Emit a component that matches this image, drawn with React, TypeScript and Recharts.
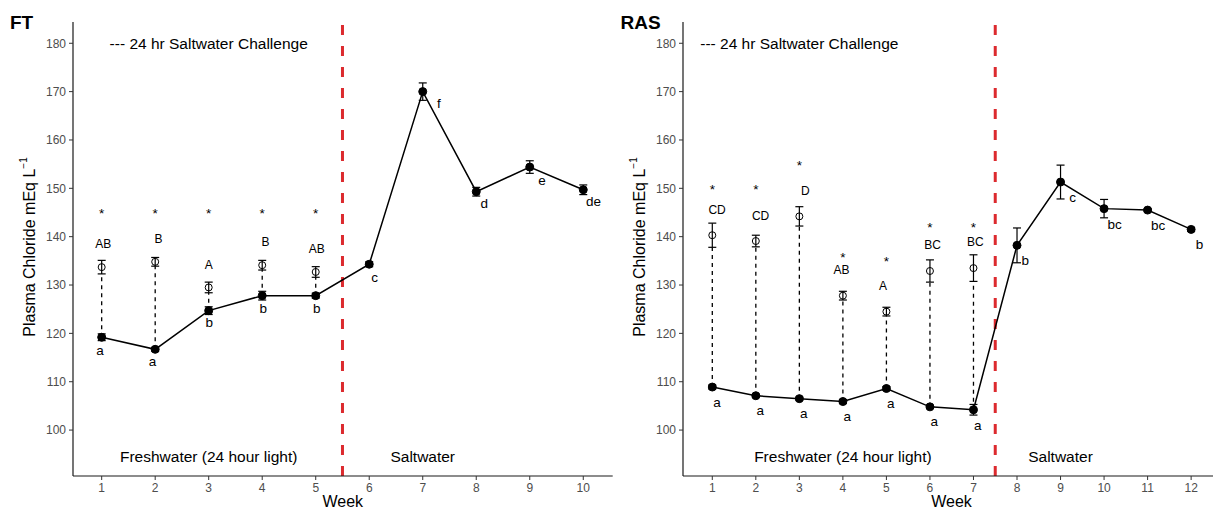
import { ComposedChart, Line, Scatter, XAxis, YAxis, ErrorBar, ReferenceLine } from "recharts";

const FONT = "'Liberation Sans', Arial, Helvetica, sans-serif";

// ---- FT panel ----
const ftWeeks = [1, 2, 3, 4, 5, 6, 7, 8, 9, 10];
const ftChallenge = [119.2, 116.7, 124.7, 127.8, 127.8, 134.3, 170.0, 149.3, 154.4, 149.7];
const ftChallengeSe = [0.7, 0.4, 0.8, 0.9, 0.5, 0.5, 1.8, 0.9, 1.3, 1.0];
const ftFreshWeeks = [1, 2, 3, 4, 5];
const ftFresh = [133.7, 134.8, 129.5, 134.1, 132.7];
const ftFreshSe = [1.4, 0.9, 1.1, 1.0, 1.1];
const ftStars = [
  { week: 1, value: 145.5, text: "*" },
  { week: 2, value: 145.5, text: "*" },
  { week: 3, value: 145.5, text: "*" },
  { week: 4, value: 145.5, text: "*" },
  { week: 5, value: 145.5, text: "*" },
];
const ftUpper = [
  { week: 1.03, value: 138.4, text: "AB" },
  { week: 2.06, value: 139.6, text: "B" },
  { week: 3.0, value: 134.2, text: "A" },
  { week: 4.06, value: 138.9, text: "B" },
  { week: 5.02, value: 137.5, text: "AB" },
];
const ftLower = [
  { week: 0.97, value: 116.3, text: "a" },
  { week: 1.95, value: 113.9, text: "a" },
  { week: 3.01, value: 122.0, text: "b" },
  { week: 4.02, value: 124.9, text: "b" },
  { week: 5.02, value: 124.9, text: "b" },
  { week: 6.1, value: 131.4, text: "c" },
  { week: 7.3, value: 167.4, text: "f" },
  { week: 8.15, value: 146.7, text: "d" },
  { week: 9.23, value: 151.5, text: "e" },
  { week: 10.19, value: 147.0, text: "de" },
];
const ftNotes = [
  { week: 3, value: 180, text: "--- 24 hr Saltwater Challenge" },
  { week: 3, value: 94.6, text: "Freshwater (24 hour light)" },
  { week: 7, value: 94.6, text: "Saltwater" },
];

// ---- RAS panel ----
const rasWeeks = [1, 2, 3, 4, 5, 6, 7, 8, 9, 10, 11, 12];
const rasChallenge = [108.9, 107.1, 106.5, 105.9, 108.6, 104.8, 104.2, 138.2, 151.3, 145.8, 145.5, 141.5];
const rasChallengeSe = [0.4, 0.3, 0.3, 0.4, 0.4, 0.3, 1.1, 3.6, 3.5, 1.9, 0.3, 0.4];
const rasFreshWeeks = [1, 2, 3, 4, 5, 6, 7];
const rasFresh = [140.3, 139.1, 144.2, 127.8, 124.5, 132.9, 133.5];
const rasFreshSe = [2.5, 1.2, 2.0, 0.9, 0.9, 2.3, 2.75];
const rasStars = [
  { week: 1, value: 150.5, text: "*" },
  { week: 2, value: 150.5, text: "*" },
  { week: 3, value: 155.4, text: "*" },
  { week: 4, value: 136.4, text: "*" },
  { week: 5, value: 135.5, text: "*" },
  { week: 6, value: 142.6, text: "*" },
  { week: 7, value: 142.6, text: "*" },
];
const rasUpper = [
  { week: 1.11, value: 145.6, text: "CD" },
  { week: 2.11, value: 144.2, text: "CD" },
  { week: 3.14, value: 149.4, text: "D" },
  { week: 3.97, value: 133.1, text: "AB" },
  { week: 4.92, value: 129.8, text: "A" },
  { week: 6.06, value: 138.2, text: "BC" },
  { week: 7.04, value: 138.9, text: "BC" },
];
const rasLower = [
  { week: 1.11, value: 105.4, text: "a" },
  { week: 2.1, value: 103.8, text: "a" },
  { week: 3.1, value: 103.2, text: "a" },
  { week: 4.1, value: 102.5, text: "a" },
  { week: 5.1, value: 105.2, text: "a" },
  { week: 6.1, value: 101.5, text: "a" },
  { week: 7.1, value: 100.8, text: "a" },
  { week: 8.19, value: 134.8, text: "b" },
  { week: 9.28, value: 147.9, text: "c" },
  { week: 10.24, value: 142.4, text: "bc" },
  { week: 11.24, value: 142.1, text: "bc" },
  { week: 12.19, value: 138.2, text: "b" },
];
const rasNotes = [
  { week: 3, value: 180, text: "--- 24 hr Saltwater Challenge" },
  { week: 4, value: 94.6, text: "Freshwater (24 hour light)" },
  { week: 9, value: 94.6, text: "Saltwater" },
];

const yTicks = [100, 110, 120, 130, 140, 150, 160, 170, 180];

const textShape = (size: number, dy: number) => (p: any) => (
  <text
    x={p.cx}
    y={p.cy}
    dy={dy}
    textAnchor="middle"
    dominantBaseline="central"
    fontSize={size}
    fontFamily={FONT}
    fill="#000"
  >
    {p.payload.text}
  </text>
);

const openCircle = (p: any) => <circle cx={p.cx} cy={p.cy} r={3.5} fill="none" stroke="#000" strokeWidth={1} />;

interface PanelProps {
  left: number;
  weeks: number[];
  challenge: number[];
  challengeSe: number[];
  freshWeeks: number[];
  fresh: number[];
  freshSe: number[];
  stars: { week: number; value: number; text: string }[];
  upper: { week: number; value: number; text: string }[];
  lower: { week: number; value: number; text: string }[];
  notes: { week: number; value: number; text: string }[];
  xDomain: [number, number];
  switchWeek: number;
  yAxisWidth: number;
  marginRight: number;
}

function Panel(props: PanelProps) {
  const saltData = props.weeks.map((w, i) => ({ week: w, value: props.challenge[i], se: props.challengeSe[i] }));
  const freshData = props.freshWeeks.map((w, i) => ({ week: w, value: props.fresh[i], se: props.freshSe[i] }));

  return (
    <div style={{ position: "absolute", left: props.left, top: 0 }}>
      <ComposedChart
        width={640}
        height={511}
        margin={{ top: 22, right: props.marginRight, bottom: 0, left: 0 }}
      >
        <XAxis
          type="number"
          dataKey="week"
          domain={props.xDomain}
          ticks={props.weeks}
          allowDataOverflow
          height={35}
          tickSize={4}
          tickMargin={3}
          tick={{ fill: "#4d4d4d", fontSize: 12, fontFamily: FONT }}
          axisLine={{ stroke: "#1a1a1a", strokeWidth: 1.2 }}
          tickLine={{ stroke: "#333" }}
        />
        <YAxis
          type="number"
          domain={[90.5, 184.4]}
          ticks={yTicks}
          allowDataOverflow
          width={props.yAxisWidth}
          tickSize={4}
          tickMargin={3}
          tick={{ fill: "#4d4d4d", fontSize: 12, fontFamily: FONT }}
          axisLine={{ stroke: "#1a1a1a", strokeWidth: 1.2 }}
          tickLine={{ stroke: "#333" }}
        />
        <ReferenceLine x={props.switchWeek} stroke="#dc2a2e" strokeWidth={3} strokeDasharray="10 11" />
        {freshData.map((d, i) => (
          <ReferenceLine
            key={d.week}
            segment={[
              { x: d.week, y: saltData[i].value },
              { x: d.week, y: d.value - d.se },
            ]}
            stroke="#000"
            strokeWidth={1.3}
            strokeDasharray="4 4"
          />
        ))}
        <Line
          data={saltData}
          dataKey="value"
          stroke="#000"
          strokeWidth={1.5}
          dot={{ r: 4, fill: "#000", stroke: "#000", strokeWidth: 1 }}
          activeDot={false}
          isAnimationActive={false}
        >
          <ErrorBar dataKey="se" direction="y" width={4} stroke="#000" strokeWidth={1.2} />
        </Line>
        <Scatter data={freshData} dataKey="value" shape={openCircle} isAnimationActive={false}>
          <ErrorBar dataKey="se" direction="y" width={4} stroke="#000" strokeWidth={1.2} />
        </Scatter>
        <Scatter data={props.stars} dataKey="value" shape={textShape(13.5, 3.5)} isAnimationActive={false} />
        <Scatter data={props.upper} dataKey="value" shape={textShape(12, 0)} isAnimationActive={false} />
        <Scatter data={props.lower} dataKey="value" shape={textShape(13.5, -1)} isAnimationActive={false} />
        <Scatter data={props.notes} dataKey="value" shape={textShape(15.5, 0)} isAnimationActive={false} />
      </ComposedChart>
    </div>
  );
}

export default function App() {
  return (
    <div
      style={{
        position: "absolute",
        left: 0,
        top: 0,
        width: 1213,
        height: 511,
        overflow: "hidden",
        background: "#fff",
      }}
    >
      <Panel
        left={0}
        weeks={ftWeeks}
        challenge={ftChallenge}
        challengeSe={ftChallengeSe}
        freshWeeks={ftFreshWeeks}
        fresh={ftFresh}
        freshSe={ftFreshSe}
        stars={ftStars}
        upper={ftUpper}
        lower={ftLower}
        notes={ftNotes}
        xDomain={[0.464, 10.55]}
        switchWeek={5.5}
        yAxisWidth={73}
        marginRight={27.3}
      />
      <Panel
        left={600}
        weeks={rasWeeks}
        challenge={rasChallenge}
        challengeSe={rasChallengeSe}
        freshWeeks={rasFreshWeeks}
        fresh={rasFresh}
        freshSe={rasFreshSe}
        stars={rasStars}
        upper={rasUpper}
        lower={rasLower}
        notes={rasNotes}
        xDomain={[0.327, 12.67]}
        switchWeek={7.5}
        yAxisWidth={83}
        marginRight={19.7}
      />
      <svg
        width={1213}
        height={511}
        style={{ position: "absolute", left: 0, top: 0, pointerEvents: "none" }}
        fontFamily={FONT}
      >
        <text x={10} y={29.3} fontSize={19} fontWeight="bold" fill="#000">FT</text>
        <text x={620.5} y={29.3} fontSize={19} fontWeight="bold" fill="#000">RAS</text>
        <text
          x={29}
          y={247}
          transform="rotate(-90, 29, 247)"
          textAnchor="middle"
          dominantBaseline="central"
          fontSize={16}
          fill="#000"
        >
          Plasma Chloride mEq L<tspan dy={-6} fontSize={10}>−1</tspan>
        </text>
        <text
          x={639}
          y={247}
          transform="rotate(-90, 639, 247)"
          textAnchor="middle"
          dominantBaseline="central"
          fontSize={16}
          fill="#000"
        >
          Plasma Chloride mEq L<tspan dy={-6} fontSize={10}>−1</tspan>
        </text>
        <text x={342.8} y={507} textAnchor="middle" fontSize={16} fill="#000">Week</text>
        <text x={951.5} y={507} textAnchor="middle" fontSize={16} fill="#000">Week</text>
      </svg>
    </div>
  );
}
